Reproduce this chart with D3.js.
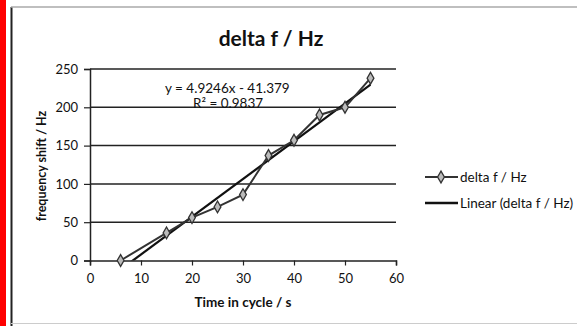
<!DOCTYPE html>
<html><head><meta charset="utf-8">
<script src="https://cdn.jsdelivr.net/npm/d3@7"></script>
<style>body{margin:0;background:#fff;}svg{display:block;font-family:Lato,"Open Sans",sans-serif;}</style>
</head><body>
<script>
const times = [6, 15, 20, 25, 30, 35, 40, 45, 50, 55];
const deltaF = [0, 36, 56, 70, 86, 137, 157, 190, 200, 238];
const xTicks = [0, 10, 20, 30, 40, 50, 60];
const yTicks = [0, 50, 100, 150, 200, 250];
const slope = 4.9246, intercept = -41.379;
const eqText = "y = 4.9246x - 41.379";
const r2Text = "R² = 0.9837";
const title = "delta f / Hz";
const xLabel = "Time in cycle / s";
const yLabel = "frequency shift / Hz";
const legendItems = ["delta f / Hz", "Linear (delta f / Hz)"];

const W = 577, H = 326;
const svg = d3.select("body").append("svg").attr("width", W).attr("height", H);

// red strip & frame
svg.append("rect").attr("x",0).attr("y",0).attr("width",6).attr("height",H).attr("fill","#f00");
svg.append("line").attr("x1",11.5).attr("x2",11.5).attr("y1",7).attr("y2",H).attr("stroke","#222").attr("stroke-width",2);
svg.append("line").attr("x1",11).attr("x2",W).attr("y1",7).attr("y2",7).attr("stroke","#aaa").attr("stroke-width",1.5);
svg.append("line").attr("x1",11).attr("x2",W).attr("y1",323.5).attr("y2",323.5).attr("stroke","#ccc").attr("stroke-width",1);

const x = d3.scaleLinear().domain([0, 60]).range([90, 396]);
const y = d3.scaleLinear().domain([0, 250]).range([260.5, 69]);

// gridlines
svg.append("g").selectAll("line").data(yTicks.filter(d=>d>0)).join("line")
  .attr("x1", x(0)).attr("x2", x(60)).attr("y1", d=>y(d)).attr("y2", d=>y(d))
  .attr("stroke","#222").attr("stroke-width",1.5);

// axes
const yAxis = svg.append("g").attr("transform",`translate(${x(0)},0)`)
  .call(d3.axisLeft(y).tickValues(yTicks).tickSize(6).tickPadding(6));
const xAxis = svg.append("g").attr("transform",`translate(0,${y(0)})`)
  .call(d3.axisBottom(x).tickValues(xTicks).tickSize(5).tickPadding(8));
[yAxis, xAxis].forEach(a=>{
  a.select(".domain").attr("stroke","#222").attr("stroke-width",1.5);
  a.selectAll(".tick line").attr("stroke","#222").attr("stroke-width",1.2);
  a.selectAll(".tick text").attr("fill","#111").style("font-size","13px").style("font-family","Lato,'Open Sans',sans-serif");
});

// trendline clipped at y=0
svg.append("clipPath").attr("id","clip").append("rect")
  .attr("x", x(0)).attr("y", y(250)).attr("width", x(60)-x(0)).attr("height", y(0)-y(250));
const tx0 = d3.min(times), tx1 = d3.max(times);
svg.append("line").attr("clip-path","url(#clip)")
  .attr("x1", x(tx0)).attr("y1", y(slope*tx0+intercept))
  .attr("x2", x(tx1)).attr("y2", y(slope*tx1+intercept))
  .attr("stroke","#111").attr("stroke-width",2.2);

// series
const pts = times.map((t,i)=>[t, deltaF[i]]);
svg.append("path").datum(pts)
  .attr("d", d3.line().x(d=>x(d[0])).y(d=>y(d[1])))
  .attr("fill","none").attr("stroke","#333").attr("stroke-width",2);
const diamond = d3.symbol().type(d3.symbolDiamond).size(40);
svg.append("g").selectAll("path").data(pts).join("path")
  .attr("d", diamond).attr("transform", d=>`translate(${x(d[0])},${y(d[1])})`)
  .attr("fill","#bbb").attr("stroke","#333").attr("stroke-width",1.3);

// equation text
svg.append("text").attr("x",165).attr("y",93).text(eqText)
  .attr("fill","#111").style("font-size","13.5px");
svg.append("text").attr("x",193).attr("y",108).text(r2Text)
  .attr("fill","#111").style("font-size","13.5px");

// title
svg.append("text").attr("x",271).attr("y",46).attr("text-anchor","middle").text(title)
  .attr("fill","#111").style("font-size","21px").style("font-weight","bold");

// axis labels
svg.append("text").attr("x",243).attr("y",307).attr("text-anchor","middle").text(xLabel)
  .attr("fill","#111").style("font-size","13.5px").style("font-weight","bold");
svg.append("text").attr("transform","translate(46,166) rotate(-90)").attr("text-anchor","middle").text(yLabel)
  .attr("fill","#111").style("font-size","12.5px").style("font-weight","bold");

// legend
const lg = svg.append("g");
const ly = [177, 203];
lg.append("line").attr("x1",425).attr("x2",458).attr("y1",ly[0]).attr("y2",ly[0]).attr("stroke","#333").attr("stroke-width",2);
lg.append("path").attr("d", diamond).attr("transform",`translate(441,${ly[0]})`).attr("fill","#bbb").attr("stroke","#333").attr("stroke-width",1.3);
lg.append("line").attr("x1",425).attr("x2",458).attr("y1",ly[1]).attr("y2",ly[1]).attr("stroke","#111").attr("stroke-width",2.5);
legendItems.forEach((t,i)=>{
  lg.append("text").attr("x",460).attr("y",ly[i]+4.5).text(t).attr("fill","#111").style("font-size","13.5px");
});
</script>
</body></html>
